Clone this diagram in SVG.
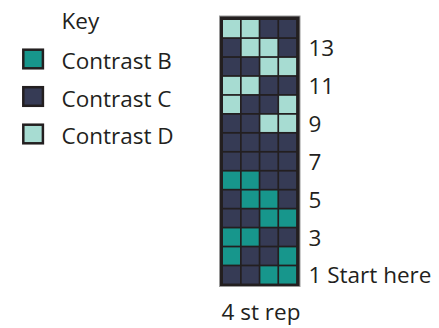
<svg xmlns="http://www.w3.org/2000/svg" width="439" height="328" viewBox="0 0 439 328">
<style>
text{font-family:"Open Sans","Liberation Sans",sans-serif;font-size:22.5px;fill:#231f20}
.B{fill:#17968c}
.C{fill:#363b55}
.D{fill:#a7dcd2}
.sw{stroke:#231f20;stroke-width:2.5}
</style>
<rect width="439" height="328" fill="#ffffff"/>
<g id="legend">
<text x="61.5" y="28.5">Key</text>
<g id="key-b"><rect class="B sw" x="23.3" y="49.7" width="19.6" height="18.6"/><text x="61.5" y="69">Contrast B</text></g>
<g id="key-c"><rect class="C sw" x="23.3" y="87.2" width="19.6" height="18.6"/><text x="61.5" y="106.5">Contrast C</text></g>
<g id="key-d"><rect class="D sw" x="23.3" y="124.7" width="19.6" height="18.6"/><text x="61.5" y="144">Contrast D</text></g>
</g>
<g id="chart">
<rect x="219.5" y="16" width="80.5" height="270.5" fill="#231f20" stroke="#9a9a9a" stroke-width="1"/>
<g id="r14"><rect class="D" x="223" y="20" width="17" height="17.2"/><rect class="D" x="241.7" y="20" width="17" height="17.2"/><rect class="C" x="260.4" y="20" width="17" height="17.2"/><rect class="C" x="279.1" y="20" width="17" height="17.2"/></g>
<g id="r13"><rect class="C" x="223" y="38.95" width="17" height="17.2"/><rect class="D" x="241.7" y="38.95" width="17" height="17.2"/><rect class="D" x="260.4" y="38.95" width="17" height="17.2"/><rect class="C" x="279.1" y="38.95" width="17" height="17.2"/></g>
<g id="r12"><rect class="C" x="223" y="57.9" width="17" height="17.2"/><rect class="C" x="241.7" y="57.9" width="17" height="17.2"/><rect class="D" x="260.4" y="57.9" width="17" height="17.2"/><rect class="D" x="279.1" y="57.9" width="17" height="17.2"/></g>
<g id="r11"><rect class="D" x="223" y="76.85" width="17" height="17.2"/><rect class="D" x="241.7" y="76.85" width="17" height="17.2"/><rect class="C" x="260.4" y="76.85" width="17" height="17.2"/><rect class="C" x="279.1" y="76.85" width="17" height="17.2"/></g>
<g id="r10"><rect class="D" x="223" y="95.8" width="17" height="17.2"/><rect class="C" x="241.7" y="95.8" width="17" height="17.2"/><rect class="C" x="260.4" y="95.8" width="17" height="17.2"/><rect class="D" x="279.1" y="95.8" width="17" height="17.2"/></g>
<g id="r9"><rect class="C" x="223" y="114.75" width="17" height="17.2"/><rect class="C" x="241.7" y="114.75" width="17" height="17.2"/><rect class="D" x="260.4" y="114.75" width="17" height="17.2"/><rect class="D" x="279.1" y="114.75" width="17" height="17.2"/></g>
<g id="r8"><rect class="C" x="223" y="133.7" width="17" height="17.2"/><rect class="C" x="241.7" y="133.7" width="17" height="17.2"/><rect class="C" x="260.4" y="133.7" width="17" height="17.2"/><rect class="C" x="279.1" y="133.7" width="17" height="17.2"/></g>
<g id="r7"><rect class="C" x="223" y="152.65" width="17" height="17.2"/><rect class="C" x="241.7" y="152.65" width="17" height="17.2"/><rect class="C" x="260.4" y="152.65" width="17" height="17.2"/><rect class="C" x="279.1" y="152.65" width="17" height="17.2"/></g>
<g id="r6"><rect class="B" x="223" y="171.6" width="17" height="17.2"/><rect class="B" x="241.7" y="171.6" width="17" height="17.2"/><rect class="C" x="260.4" y="171.6" width="17" height="17.2"/><rect class="C" x="279.1" y="171.6" width="17" height="17.2"/></g>
<g id="r5"><rect class="C" x="223" y="190.55" width="17" height="17.2"/><rect class="B" x="241.7" y="190.55" width="17" height="17.2"/><rect class="B" x="260.4" y="190.55" width="17" height="17.2"/><rect class="C" x="279.1" y="190.55" width="17" height="17.2"/></g>
<g id="r4"><rect class="C" x="223" y="209.5" width="17" height="17.2"/><rect class="C" x="241.7" y="209.5" width="17" height="17.2"/><rect class="B" x="260.4" y="209.5" width="17" height="17.2"/><rect class="B" x="279.1" y="209.5" width="17" height="17.2"/></g>
<g id="r3"><rect class="B" x="223" y="228.45" width="17" height="17.2"/><rect class="B" x="241.7" y="228.45" width="17" height="17.2"/><rect class="C" x="260.4" y="228.45" width="17" height="17.2"/><rect class="C" x="279.1" y="228.45" width="17" height="17.2"/></g>
<g id="r2"><rect class="B" x="223" y="247.4" width="17" height="17.2"/><rect class="C" x="241.7" y="247.4" width="17" height="17.2"/><rect class="C" x="260.4" y="247.4" width="17" height="17.2"/><rect class="B" x="279.1" y="247.4" width="17" height="17.2"/></g>
<g id="r1"><rect class="C" x="223" y="266.35" width="17" height="17.2"/><rect class="C" x="241.7" y="266.35" width="17" height="17.2"/><rect class="B" x="260.4" y="266.35" width="17" height="17.2"/><rect class="B" x="279.1" y="266.35" width="17" height="17.2"/></g>
</g>
<g id="labels">
<text x="308.5" y="56">13</text>
<text x="308.5" y="94">11</text>
<text x="308.5" y="132">9</text>
<text x="308.5" y="170">7</text>
<text x="308.5" y="208">5</text>
<text x="308.5" y="245.5">3</text>
<text x="308.5" y="283">1 Start here</text>
<text x="221.5" y="319.5">4 st rep</text>
</g>
</svg>
